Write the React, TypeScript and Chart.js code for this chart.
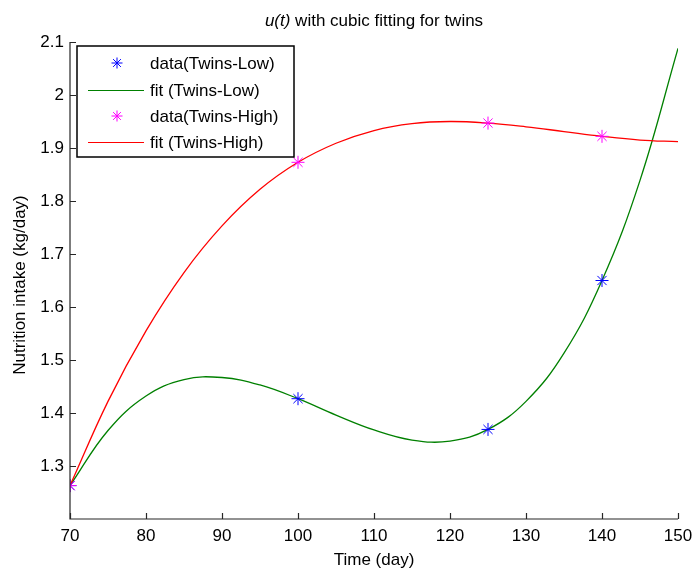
import React, { useEffect, useRef } from "react";
import { Chart, registerables } from "chart.js";

Chart.register(...registerables);

const titleItalic = "u(t)";
const titleRest = " with cubic fitting for twins";
const xTitle = "Time (day)";
const yTitle = "Nutrition intake (kg/day)";
const legendLabels = ["data(Twins-Low)", "fit (Twins-Low)", "data(Twins-High)", "fit (Twins-High)"];

const dataTime = [70, 100, 125, 140];
const lowData = [1.263, 1.427, 1.369, 1.65];
const highData = [1.263, 1.873, 1.947, 1.922];

const fitTime = [70, 75, 80, 85, 90, 95, 100, 105, 110, 115, 120, 125, 130, 135, 140, 145, 150];
const fitLow = [1.263, 1.367, 1.432, 1.463, 1.467, 1.453, 1.427, 1.396, 1.368, 1.349, 1.347, 1.369, 1.422, 1.513, 1.65, 1.839, 2.088];
const fitHigh = [1.263, 1.422, 1.555, 1.665, 1.753, 1.822, 1.873, 1.909, 1.933, 1.946, 1.95, 1.947, 1.94, 1.931, 1.922, 1.915, 1.912];

const xMin = 70, xMax = 150, xStep = 10;
const yMin = 1.2, yMax = 2.1, yStep = 0.1;

const FONT = "'Liberation Sans', Arial, Helvetica, sans-serif";
const BLUE = "#0000ff", GREEN = "#008000", MAGENTA = "#ff00ff", RED = "#ff0000";
const AXIS = "#262626";

function drawStar(ctx: CanvasRenderingContext2D, x: number, y: number, r: number, color: string) {
  ctx.save();
  ctx.strokeStyle = color;
  ctx.lineWidth = 1;
  ctx.beginPath();
  ctx.moveTo(x - r, y); ctx.lineTo(x + r, y);
  ctx.moveTo(x, y - r); ctx.lineTo(x, y + r);
  const d = r * 0.7071;
  ctx.moveTo(x - d, y - d); ctx.lineTo(x + d, y + d);
  ctx.moveTo(x - d, y + d); ctx.lineTo(x + d, y - d);
  ctx.stroke();
  ctx.restore();
}

const matlabPlugin = {
  id: "matlabDecor",
  afterDraw(chart: any) {
    const { ctx, chartArea, scales } = chart;
    const { left, right, top, bottom } = chartArea;
    ctx.save();
    ctx.strokeStyle = AXIS;
    ctx.lineWidth = 1.2;
    ctx.beginPath();
    ctx.moveTo(left, top);
    ctx.lineTo(left, bottom);
    ctx.lineTo(right, bottom);
    ctx.stroke();
    const tl = 6;
    ctx.beginPath();
    for (let v = xMin; v <= xMax + 1e-9; v += xStep) {
      const px = Math.round(scales.x.getPixelForValue(v)) + 0.5;
      ctx.moveTo(px, bottom);
      ctx.lineTo(px, bottom - tl);
    }
    for (let i = 1; yMin + i * yStep <= yMax + 1e-9; i++) {
      const v = yMin + i * yStep;
      const py = Math.round(scales.y.getPixelForValue(v)) + 0.5;
      ctx.moveTo(left, py);
      ctx.lineTo(left + tl, py);
    }
    ctx.stroke();

    ctx.fillStyle = "#000";
    ctx.textBaseline = "middle";
    ctx.textAlign = "left";
    const cx = (left + right) / 2;
    ctx.font = `italic 17px ${FONT}`;
    const w1 = ctx.measureText(titleItalic).width;
    ctx.font = `17px ${FONT}`;
    const w2 = ctx.measureText(titleRest).width;
    const tx = cx - (w1 + w2) / 2;
    ctx.font = `italic 17px ${FONT}`;
    ctx.fillText(titleItalic, tx, 21);
    ctx.font = `17px ${FONT}`;
    ctx.fillText(titleRest, tx + w1, 21);

    ctx.textAlign = "center";
    ctx.fillText(xTitle, cx, 560);
    ctx.save();
    ctx.translate(20, 285);
    ctx.rotate(-Math.PI / 2);
    ctx.font = `17px ${FONT}`;
    ctx.fillText(yTitle, 0, 0);
    ctx.restore();

    const bx = 77, by = 46, bw = 217, bh = 111;
    ctx.fillStyle = "#fff";
    ctx.fillRect(bx, by, bw, bh);
    ctx.strokeStyle = "#000";
    ctx.lineWidth = 1.5;
    ctx.strokeRect(bx, by, bw, bh);
    const rows = [63, 90, 116, 142];
    const colors = [BLUE, GREEN, MAGENTA, RED];
    ctx.font = `17px ${FONT}`;
    ctx.textAlign = "left";
    ctx.textBaseline = "middle";
    rows.forEach((ry, i) => {
      if (i % 2 === 0) {
        drawStar(ctx, 117, ry, 5.5, colors[i]);
      } else {
        ctx.strokeStyle = colors[i];
        ctx.lineWidth = 1.2;
        ctx.beginPath();
        ctx.moveTo(88, ry + 0.5);
        ctx.lineTo(144, ry + 0.5);
        ctx.stroke();
      }
      ctx.fillStyle = "#000";
      ctx.fillText(legendLabels[i], 150, ry + 1);
    });
    ctx.restore();
  },
};

export default function App() {
  const ref = useRef<HTMLCanvasElement | null>(null);
  useEffect(() => {
    if (!ref.current) return;
    const pts = (xs: number[], ys: number[]) => xs.map((x, i) => ({ x, y: ys[i] }));
    const chart = new Chart(ref.current, {
      type: "scatter",
      data: {
        datasets: [
          {
            label: legendLabels[0],
            data: pts(dataTime, lowData),
            pointStyle: "star",
            pointRadius: 6.5,
            borderColor: BLUE,
            backgroundColor: BLUE,
            borderWidth: 1,
            showLine: false,
            order: 1,
          },
          {
            label: legendLabels[1],
            data: pts(fitTime, fitLow),
            showLine: true,
            pointRadius: 0,
            borderColor: GREEN,
            borderWidth: 1.3,
            tension: 0.4,
            order: 4,
          },
          {
            label: legendLabels[2],
            data: pts(dataTime, highData),
            pointStyle: "star",
            pointRadius: 6.5,
            borderColor: MAGENTA,
            backgroundColor: MAGENTA,
            borderWidth: 1,
            showLine: false,
            order: 0,
          },
          {
            label: legendLabels[3],
            data: pts(fitTime, fitHigh),
            showLine: true,
            pointRadius: 0,
            borderColor: RED,
            borderWidth: 1.3,
            tension: 0.4,
            order: 3,
          },
        ],
      },
      options: {
        responsive: false,
        animation: false,
        devicePixelRatio: 1,
        layout: { padding: { top: 42, right: 16, left: 0, bottom: 0 } },
        plugins: { legend: { display: false }, tooltip: { enabled: false }, title: { display: false } },
        scales: {
          x: {
            type: "linear",
            min: xMin,
            max: xMax,
            afterFit: (s: any) => { s.height = 53; s.paddingLeft = 0; s.paddingRight = 0; },
            grid: { display: false, drawTicks: false },
            border: { display: false },
            ticks: {
              stepSize: xStep,
              padding: 7,
              color: "#000",
              font: { family: FONT, size: 17 },
              maxRotation: 0,
            },
          },
          y: {
            type: "linear",
            min: yMin,
            max: yMax,
            afterFit: (s: any) => { s.width = 70; s.paddingTop = 0; s.paddingBottom = 0; },
            grid: { display: false, drawTicks: false },
            border: { display: false },
            ticks: {
              stepSize: yStep,
              padding: 6,
              color: "#000",
              font: { family: FONT, size: 17 },
              callback: (v: any) => {
                const n = Number(Number(v).toFixed(1));
                if (Math.abs(n - yMin) < 1e-6) return "";
                return String(n);
              },
            },
          },
        },
      },
      plugins: [matlabPlugin],
    } as any);
    return () => chart.destroy();
  }, []);
  return (
    <div style={{ position: "absolute", left: 0, top: 0, width: 694, height: 572, background: "#fff" }}>
      <canvas ref={ref} width={694} height={572} style={{ display: "block" }} />
    </div>
  );
}
